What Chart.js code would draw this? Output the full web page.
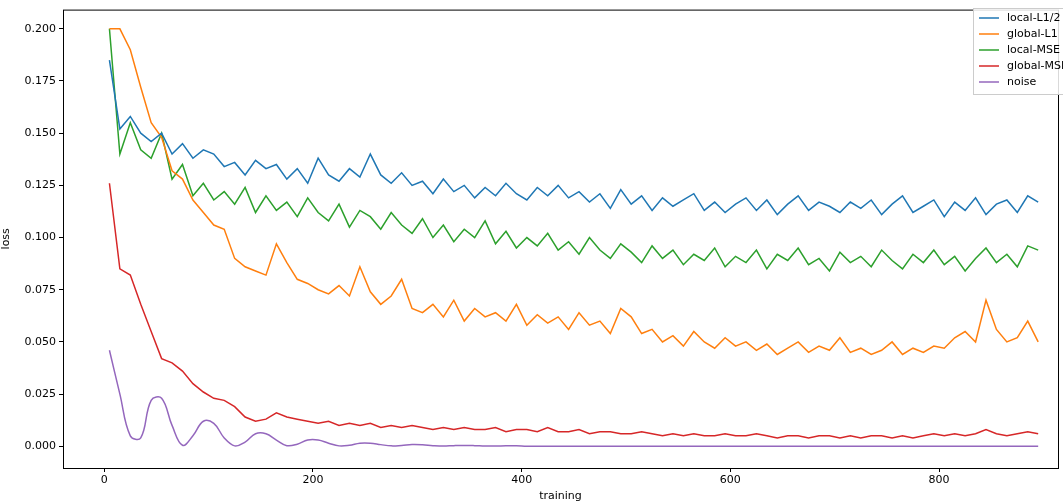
<!DOCTYPE html>
<html>
<head>
<meta charset="utf-8">
<script src="https://cdn.jsdelivr.net/npm/chart.js@4"></script>
<style>
  html, body { margin: 0; padding: 0; background: #fff; }
  #wrap { width: 1063px; height: 503px; }
</style>
</head>
<body>
<div id="wrap"><canvas id="c"></canvas></div>
<script>
const steps = [5,15,25,35,45,55,65,75,85,95,105,115,125,135,145,155,165,175,185,195,
  205,215,225,235,245,255,265,275,285,295,305,315,325,335,345,355,365,375,385,395,
  405,415,425,435,445,455,465,475,485,495,505,515,525,535,545,555,565,575,585,595,
  605,615,625,635,645,655,665,675,685,695,705,715,725,735,745,755,765,775,785,795,
  805,815,825,835,845,855,865,875,885,895];

const localL12 = [0.185,0.152,0.158,0.150,0.146,0.150,0.140,0.145,0.138,0.142,
  0.140,0.134,0.136,0.130,0.137,0.133,0.135,0.128,0.133,0.126,
  0.138,0.130,0.127,0.133,0.129,0.140,0.130,0.126,0.131,0.125,
  0.127,0.121,0.128,0.122,0.125,0.119,0.124,0.120,0.126,0.121,
  0.118,0.124,0.120,0.125,0.119,0.122,0.117,0.121,0.114,0.123,
  0.116,0.120,0.113,0.119,0.115,0.118,0.121,0.113,0.117,0.112,
  0.116,0.119,0.113,0.118,0.111,0.116,0.120,0.113,0.117,0.115,
  0.112,0.117,0.114,0.118,0.111,0.116,0.120,0.112,0.115,0.118,
  0.110,0.117,0.113,0.119,0.111,0.116,0.118,0.112,0.120,0.117];

const globalL1 = [0.200,0.200,0.190,0.172,0.155,0.148,0.132,0.128,0.118,0.112,
  0.106,0.104,0.090,0.086,0.084,0.082,0.097,0.088,0.080,0.078,
  0.075,0.073,0.077,0.072,0.086,0.074,0.068,0.072,0.080,0.066,
  0.064,0.068,0.062,0.070,0.060,0.066,0.062,0.064,0.060,0.068,
  0.058,0.063,0.059,0.062,0.056,0.064,0.058,0.060,0.054,0.066,
  0.062,0.054,0.056,0.050,0.053,0.048,0.055,0.050,0.047,0.052,
  0.048,0.050,0.046,0.049,0.044,0.047,0.050,0.045,0.048,0.046,
  0.052,0.045,0.047,0.044,0.046,0.050,0.044,0.047,0.045,0.048,
  0.047,0.052,0.055,0.050,0.070,0.056,0.050,0.052,0.060,0.050];

const localMSE = [0.200,0.140,0.155,0.142,0.138,0.150,0.128,0.135,0.120,0.126,
  0.118,0.122,0.116,0.124,0.112,0.120,0.113,0.117,0.110,0.119,
  0.112,0.108,0.116,0.105,0.113,0.110,0.104,0.112,0.106,0.102,
  0.109,0.100,0.106,0.098,0.104,0.100,0.108,0.097,0.103,0.095,
  0.100,0.096,0.102,0.094,0.098,0.092,0.100,0.094,0.090,0.097,
  0.093,0.088,0.096,0.090,0.094,0.087,0.092,0.089,0.095,0.086,
  0.091,0.088,0.094,0.085,0.092,0.089,0.095,0.087,0.090,0.084,
  0.093,0.088,0.091,0.086,0.094,0.089,0.085,0.092,0.088,0.094,
  0.087,0.091,0.084,0.090,0.095,0.088,0.092,0.086,0.096,0.094];

const globalMSE = [0.126,0.085,0.082,0.068,0.055,0.042,0.040,0.036,0.030,0.026,
  0.023,0.022,0.019,0.014,0.012,0.013,0.016,0.014,0.013,0.012,
  0.011,0.012,0.010,0.011,0.010,0.011,0.009,0.010,0.009,0.010,
  0.009,0.008,0.009,0.008,0.009,0.008,0.008,0.009,0.007,0.008,
  0.008,0.007,0.009,0.007,0.007,0.008,0.006,0.007,0.007,0.006,
  0.006,0.007,0.006,0.005,0.006,0.005,0.006,0.005,0.005,0.006,
  0.005,0.005,0.006,0.005,0.004,0.005,0.005,0.004,0.005,0.005,
  0.004,0.005,0.004,0.005,0.005,0.004,0.005,0.004,0.005,0.006,
  0.005,0.006,0.005,0.006,0.008,0.006,0.005,0.006,0.007,0.006];

const noise = [0.046,0.025,0.005,0.004,0.022,0.023,0.010,0.0005,0.005,0.012,
  0.011,0.004,0.0002,0.002,0.006,0.006,0.003,0.0003,0.001,0.003,
  0.003,0.0015,0.0002,0.0005,0.0015,0.0015,0.0008,0.0002,0.0004,0.0008,
  0.0007,0.0003,0.0001,0.0003,0.0004,0.0003,0.0001,0.0001,0.0002,0.0002,
  0,0,0,0,0,0,0,0,0,0, 0,0,0,0,0,0,0,0,0,0,
  0,0,0,0,0,0,0,0,0,0, 0,0,0,0,0,0,0,0,0,0,
  0,0,0,0,0,0,0,0,0,0];

const yTicks = [0,0.025,0.05,0.075,0.1,0.125,0.15,0.175,0.2];
const xTicks = [0,200,400,600,800];

function series(label, vals, color, tension) {
  return {
    label: label,
    data: steps.map((x, i) => ({ x: x, y: vals[i] })),
    borderColor: color,
    borderWidth: 1.5,
    pointRadius: 0,
    tension: tension,
    fill: false
  };
}

const frame = {
  id: "frame",
  afterDraw(chart) {
    const ctx = chart.ctx, a = chart.chartArea;
    ctx.save();
    ctx.strokeStyle = "#000";
    ctx.lineWidth = 1;
    ctx.strokeRect(a.left + 0.5, a.top + 0.5, a.right - a.left, a.bottom - a.top);
    // legend box
    const bx = 973, by = 8, bw = 95, bh = 86;
    ctx.fillStyle = "rgba(255,255,255,0.85)";
    ctx.strokeStyle = "#ccc";
    ctx.fillRect(bx, by, bw, bh);
    ctx.strokeRect(bx + 0.5, by + 0.5, bw, bh);
    ctx.font = "11px 'DejaVu Sans'";
    ctx.textBaseline = "middle";
    chart.data.datasets.forEach((d, i) => {
      const y = by + 10 + i * 16;
      ctx.strokeStyle = d.borderColor;
      ctx.lineWidth = 1.5;
      ctx.beginPath();
      ctx.moveTo(bx + 6, y);
      ctx.lineTo(bx + 26, y);
      ctx.stroke();
      ctx.fillStyle = "#000";
      ctx.fillText(d.label, bx + 34, y);
    });
    ctx.restore();
  }
};

new Chart(document.getElementById("c"), {
  type: "line",
  data: {
    datasets: [
      series("local-L1/2", localL12, "#1f77b4", 0),
      series("global-L1", globalL1, "#ff7f0e", 0),
      series("local-MSE", localMSE, "#2ca02c", 0),
      series("global-MSE", globalMSE, "#d62728", 0),
      series("noise", noise, "#9467bd", 0.4)
    ]
  },
  options: {
    responsive: true,
    maintainAspectRatio: false,
    animation: false,
    layout: { padding: { top: 0, right: 5, left: 0, bottom: 0 } },
    plugins: { legend: { display: false }, tooltip: { enabled: false } },
    scales: {
      x: {
        type: "linear",
        min: -39.5,
        max: 914,
        afterBuildTicks: (s) => { s.ticks = xTicks.map(v => ({ value: v })); },
        afterFit: (s) => { s.height = 35; },
        grid: { drawOnChartArea: false, tickLength: 4, color: "#000" },
        border: { display: false },
        ticks: { color: "#000", font: { family: "DejaVu Sans", size: 11 }, maxRotation: 0, padding: 2 },
        title: { display: true, text: "training", color: "#000", font: { family: "DejaVu Sans", size: 11 }, padding: 0 }
      },
      y: {
        min: -0.0104,
        max: 0.2092,
        afterBuildTicks: (s) => { s.ticks = yTicks.map(v => ({ value: v })); },
        afterFit: (s) => { s.width = 63; },
        grid: { drawOnChartArea: false, tickLength: 4, color: "#000" },
        border: { display: false },
        ticks: { color: "#000", font: { family: "DejaVu Sans", size: 11 }, padding: 3,
          callback: (v) => v.toFixed(3) },
        title: { display: true, text: "loss", color: "#000", font: { family: "DejaVu Sans", size: 11 }, padding: 0 }
      }
    }
  },
  plugins: [frame]
});
</script>
</body>
</html>
